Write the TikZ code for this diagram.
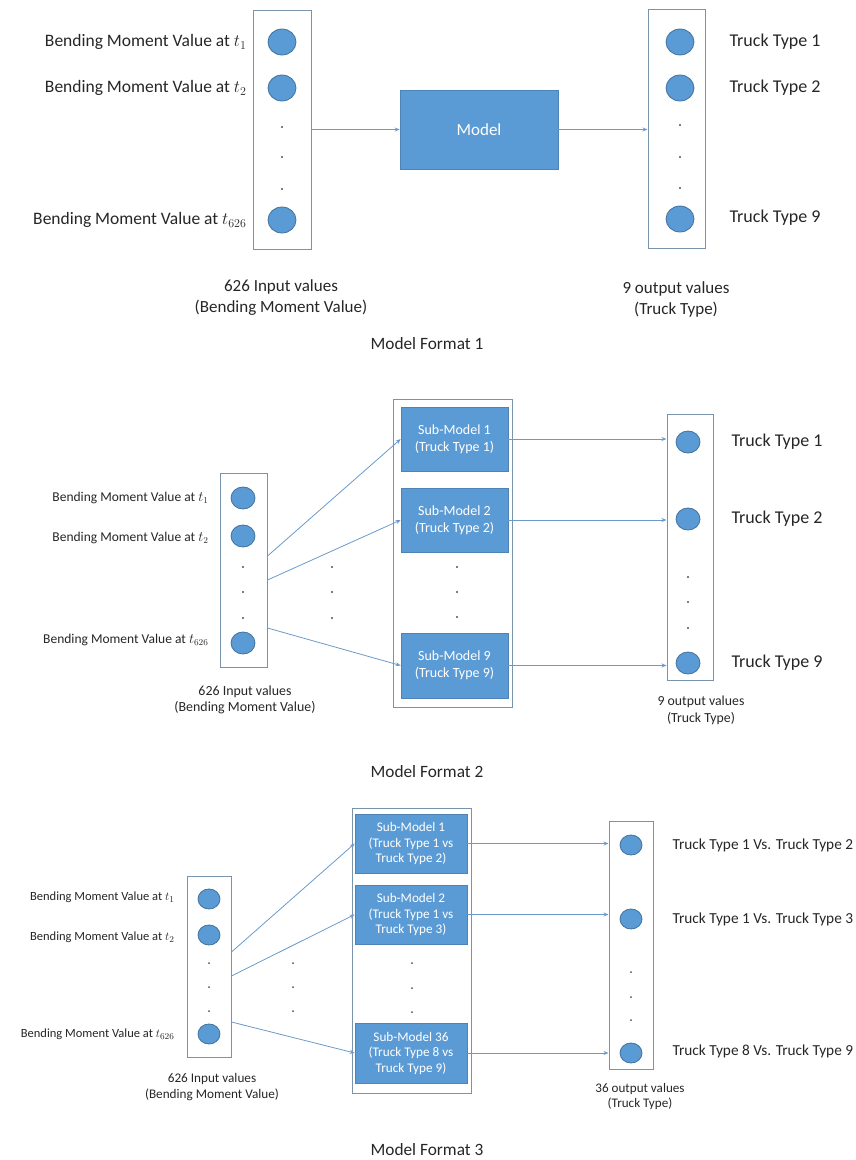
\documentclass[tikz,border=0pt]{standalone}
\usepackage{fontspec}
\setmainfont{Carlito}
\usetikzlibrary{shapes.geometric,arrows.meta,calc}
\definecolor{obl}{HTML}{5B9BD5}
\definecolor{obd}{HTML}{41719C}
\definecolor{frm}{HTML}{7A93AD}
\definecolor{arr}{HTML}{6A9ACB}
\definecolor{txt}{HTML}{262626}
\newcommand{\fsz}[2]{\fontsize{#1}{#2}\selectfont}
\begin{document}
\begin{tikzpicture}[x=1pt,y=-1pt,
  every node/.style={text=txt},
  nA/.style={ellipse, fill=obl, draw=obd, line width=0.8pt, inner sep=0, minimum width=28, minimum height=26},
  nB/.style={ellipse, fill=obl, draw=obd, line width=0.8pt, inner sep=0, minimum width=24, minimum height=22},
  nC/.style={ellipse, fill=obl, draw=obd, line width=0.8pt, inner sep=0, minimum width=22, minimum height=20},
  frame/.style={draw=frm, line width=1pt, inner sep=0},
  mbox/.style={fill=obl, draw=obl!85!black, line width=0.6pt, text=white, inner sep=0, align=center},
  conn/.style={draw=arr, line width=0.8pt, -{Stealth[length=5pt,width=4pt]}},
  dotc/.style={fill=txt!80},
]
\useasboundingbox (0,0) rectangle (855,1160);

% ===== Section 1 =====
\node[frame, minimum width=58, minimum height=239] (in1) at (282,129.5) {};
\node[nA] (i1a) at (282,42) {};
\node[nA] (i1b) at (282,88) {};
\node[nA] (i1c) at (282,220) {};
\foreach \yy in {127,157,189} \fill[dotc] (282,\yy) circle (1.2);
\node[anchor=east, font=\fsz{17.5}{21}] (l1a) at (250,42) {Bending Moment Value at $t_1$};
\node[anchor=east, font=\fsz{17.5}{21}] (l1b) at (250,88) {Bending Moment Value at $t_2$};
\node[anchor=east, font=\fsz{17.5}{21}] (l1c) at (250,220) {Bending Moment Value at $t_{626}$};

\node[mbox, minimum width=158, minimum height=79, font=\fsz{17}{20}] (model) at (479,129.5) {Model};

\node[frame, minimum width=57, minimum height=239] (out1) at (676.5,128.5) {};
\node[nA] (o1a) at (680,42) {};
\node[nA] (o1b) at (680,88) {};
\node[nA] (o1c) at (680,219) {};
\foreach \yy in {125,157,188} \fill[dotc] (680,\yy) circle (1.2);
\node[anchor=west, font=\fsz{18}{21}] (t1a) at (726,42) {Truck Type 1};
\node[anchor=west, font=\fsz{18}{21}] (t1b) at (726,88) {Truck Type 2};
\node[anchor=west, font=\fsz{18}{21}] (t1c) at (726,218) {Truck Type 9};

\draw[conn] (in1.east) -- (model.west);
\draw[conn] (model.east) -- (model.east -| out1.west);

\node[align=center, font=\fsz{17}{21}] (cap1a) at (281,297.5) {626 Input values\\(Bending Moment Value)};
\node[align=center, font=\fsz{17}{21}] (cap1b) at (676,299.5) {9 output values\\(Truck Type)};
\node[font=\fsz{17.3}{20}] (title1) at (427,344) {Model Format 1};

% ===== Section 2 =====
\node[frame, minimum width=47, minimum height=194] (in2) at (243.5,570) {};
\node[nB] (i2a) at (243,498) {};
\node[nB] (i2b) at (243,536) {};
\node[nB] (i2c) at (243,643) {};
\foreach \yy in {567,592,618} \fill[dotc] (243,\yy) circle (1.1);
\node[anchor=east, font=\fsz{13.5}{16}] (l2a) at (212,498) {Bending Moment Value at $t_1$};
\node[anchor=east, font=\fsz{13.5}{16}] (l2b) at (212,538) {Bending Moment Value at $t_2$};
\node[anchor=east, font=\fsz{13.5}{16}] (l2c) at (212,640) {Bending Moment Value at $t_{626}$};
\foreach \yy in {567,592,618} \fill[dotc] (332,\yy) circle (1.1);

\node[frame, minimum width=119, minimum height=308] (grp2) at (452.5,553) {};
\node[mbox, minimum width=107, minimum height=64, font=\fsz{14}{17}] (sm2a) at (454.5,439) {Sub-Model 1\\(Truck Type 1)};
\node[mbox, minimum width=107, minimum height=64, font=\fsz{14}{17}] (sm2b) at (454.5,520) {Sub-Model 2\\(Truck Type 2)};
\node[mbox, minimum width=107, minimum height=65, font=\fsz{14}{17}] (sm2c) at (454.5,665.5) {Sub-Model 9\\(Truck Type 9)};
\foreach \yy in {567,592,617} \fill[dotc] (457,\yy) circle (1.1);

\node[frame, minimum width=46, minimum height=266] (out2) at (690,547) {};
\node[nB] (o2a) at (688,442) {};
\node[nB] (o2b) at (688,519) {};
\node[nB] (o2c) at (688,663) {};
\foreach \yy in {577,602,628} \fill[dotc] (688,\yy) circle (1.1);
\node[anchor=west, font=\fsz{18}{21}] (t2a) at (728,442) {Truck Type 1};
\node[anchor=west, font=\fsz{18}{21}] (t2b) at (728,519) {Truck Type 2};
\node[anchor=west, font=\fsz{18}{21}] (t2c) at (728,663) {Truck Type 9};

\coordinate (s2a) at ($(in2.east)+(0,-14)$);
\coordinate (s2b) at ($(in2.east)+(0,10)$);
\coordinate (s2c) at ($(in2.east)+(0,58)$);
\draw[conn] (s2a) -- (sm2a.west);
\draw[conn] (s2b) -- (sm2b.west);
\draw[conn] (s2c) -- (sm2c.west);
\draw[conn] (sm2a.east) -- (sm2a.east -| out2.west);
\draw[conn] (sm2b.east) -- (sm2b.east -| out2.west);
\draw[conn] (sm2c.east) -- (sm2c.east -| out2.west);

\node[align=center, font=\fsz{13.9}{16}] (cap2a) at (245,700) {626 Input values\\(Bending Moment Value)};
\node[align=center, font=\fsz{13.8}{17}] (cap2b) at (701,710.5) {9 output values\\(Truck Type)};
\node[font=\fsz{17.3}{20}] (title2) at (427,772) {Model Format 2};

% ===== Section 3 =====
\node[frame, minimum width=44, minimum height=181] (in3) at (209,966.5) {};
\node[nC] (i3a) at (209,899) {};
\node[nC] (i3b) at (209,935) {};
\node[nC] (i3c) at (209,1034) {};
\foreach \yy in {963,987,1011} \fill[dotc] (209,\yy) circle (1.0);
\node[anchor=east, font=\fsz{12.5}{15}] (l3a) at (178,897) {Bending Moment Value at $t_1$};
\node[anchor=east, font=\fsz{12.5}{15}] (l3b) at (178,937) {Bending Moment Value at $t_2$};
\node[anchor=east, font=\fsz{12.5}{15}] (l3c) at (178,1034) {Bending Moment Value at $t_{626}$};
\foreach \yy in {963,987,1011} \fill[dotc] (293,\yy) circle (1.0);

\node[frame, minimum width=119, minimum height=285] (grp3) at (411.5,950.5) {};
\node[mbox, minimum width=112, minimum height=59, font=\fsz{13.2}{15.5}] (sm3a) at (411,843.5) {Sub-Model 1\\(Truck Type 1 vs\\Truck Type 2)};
\node[mbox, minimum width=112, minimum height=59, font=\fsz{13.2}{15.5}] (sm3b) at (411,914.5) {Sub-Model 2\\(Truck Type 1 vs\\Truck Type 3)};
\node[mbox, minimum width=112, minimum height=60, font=\fsz{13.2}{15.5}] (sm3c) at (411,1053) {Sub-Model 36\\(Truck Type 8 vs\\Truck Type 9)};
\foreach \yy in {963,988,1012} \fill[dotc] (412,\yy) circle (1.0);

\node[frame, minimum width=44, minimum height=248] (out3) at (631,945) {};
\node[nC] (o3a) at (631,845) {};
\node[nC] (o3b) at (631,919) {};
\node[nC] (o3c) at (631,1053) {};
\foreach \yy in {972,997,1020} \fill[dotc] (631,\yy) circle (1.0);
\node[anchor=west, font=\fsz{15.3}{18}] (t3a) at (669,845) {Truck Type 1 Vs. Truck Type 2};
\node[anchor=west, font=\fsz{15.3}{18}] (t3b) at (669,919) {Truck Type 1 Vs. Truck Type 3};
\node[anchor=west, font=\fsz{15.3}{18}] (t3c) at (669,1051) {Truck Type 8 Vs. Truck Type 9};

\coordinate (s3a) at ($(in3.east)+(0,-14.5)$);
\coordinate (s3b) at ($(in3.east)+(0,9.5)$);
\coordinate (s3c) at ($(in3.east)+(0,55.5)$);
\draw[conn] (s3a) -- (sm3a.west);
\draw[conn] (s3b) -- (sm3b.west);
\draw[conn] (s3c) -- (sm3c.west);
\draw[conn] (sm3a.east) -- (sm3a.east -| out3.west);
\draw[conn] (sm3b.east) -- (sm3b.east -| out3.west);
\draw[conn] (sm3c.east) -- (sm3c.east -| out3.west);

\node[align=center, font=\fsz{13.2}{16}] (cap3a) at (212,1087) {626 Input values\\(Bending Moment Value)};
\node[align=center, font=\fsz{13.1}{15}] (cap3b) at (640,1096.5) {36 output values\\(Truck Type)};
\node[font=\fsz{17.3}{20}] (title3) at (427,1150) {Model Format 3};
\end{tikzpicture}
\end{document}
